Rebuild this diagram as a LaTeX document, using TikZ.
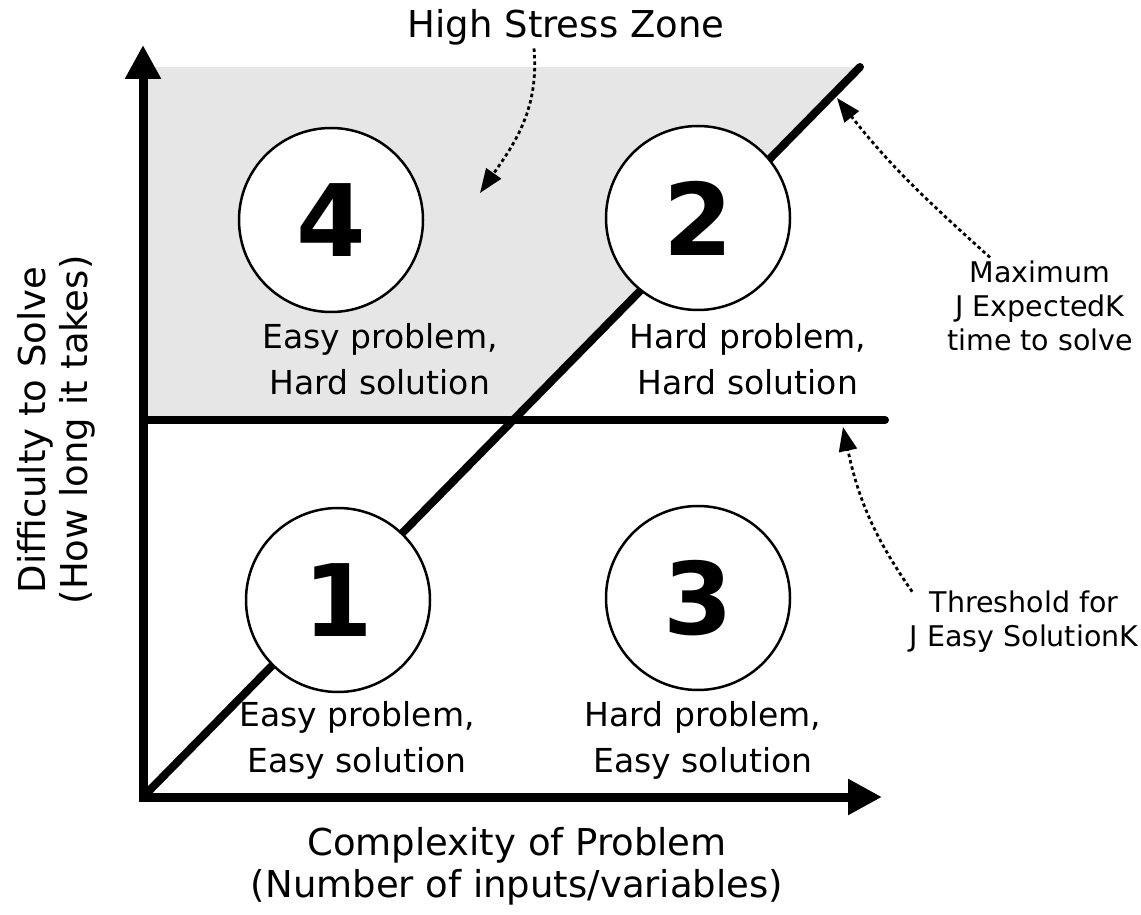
\documentclass[tikz,border=0pt]{standalone}
\usepackage{fontspec}
\setmainfont{DejaVu Sans}
\usepackage{tikz}
\usetikzlibrary{arrows.meta, positioning}
\definecolor{stressgray}{RGB}{230, 230, 230}

\begin{document}
\begin{tikzpicture}[
    x=1pt, y=1pt,
    axisline/.style={line width=9pt, -{Triangle[length=34pt, width=34pt]}},
    divider/.style={line width=8pt, line cap=round},
    quadrant/.style={circle, draw, line width=2.5pt, fill=white, minimum size=184pt, inner sep=0pt, font=\fontsize{100}{100}\selectfont\bfseries},
    quadtext/.style={align=center, font=\fontsize{33}{46}\selectfont},
    axistext/.style={align=center, font=\fontsize{37}{42}\selectfont},
    annot/.style={align=center, font=\fontsize{28.5}{34}\selectfont},
    pointer/.style={line width=2.8pt, dash pattern=on 3.5pt off 3pt, -{Triangle[length=24pt, width=18pt]}}
]
    \useasboundingbox (0, 0) rectangle (1141, 914);

    % Stress zone
    \fill[stressgray] (148, 847) -- (857, 847) -- (513, 494) -- (148, 494) -- cycle;

    % Axes
    \coordinate (origin) at (143, 117);
    \coordinate (ytop) at (143, 869);
    \coordinate (xend) at (882, 117);
    \coordinate (diagend) at (860, 847);
    \coordinate (hleft) at (143, 494);
    \coordinate (hright) at (885, 494);
    \draw[divider] (origin) -- (diagend);
    \draw[divider] (hleft) -- (hright);
    \draw[axisline] ([yshift=-4pt]origin) -- (ytop);
    \draw[axisline] ([xshift=-4pt]origin) -- (xend);

    % Quadrants
    \node[quadrant] (q4) at (331, 694) {4};
    \node[quadrant] (q2) at (698, 696) {2};
    \node[quadrant] (q1) at (338, 314) {1};
    \node[quadrant] (q3) at (698, 316) {3};

    \node[quadtext] (t4) at (380, 555) {Easy problem,\\Hard solution};
    \node[quadtext] (t2) at (748, 555) {Hard problem,\\Hard solution};
    \node[quadtext] (t1) at (357, 174) {Easy problem,\\Easy solution};
    \node[quadtext] (t3) at (703, 174) {Hard problem,\\Easy solution};

    % Axis labels
    \node[axistext, rotate=90] (ylab) at (56, 484) {Difficulty to Solve\\(How long it takes)};
    \node[axistext] (xlab) at (517, 48) {Complexity of Problem\\(Number of inputs/variables)};

    % Notes
    \node[font=\fontsize{37}{42}\selectfont] (stress) at (566, 887) {High Stress Zone};
    \node[annot] (maxnote) at (1040, 608) {Maximum\\J ExpectedK\\time to solve};
    \node[annot] (thrnote) at (1024, 292) {Threshold for\\J Easy SolutionK};

    \coordinate (stresstip) at (480, 721);
    \coordinate (maxtip) at (837, 816);
    \coordinate (thrtip) at (843, 487);

    \draw[pointer] ([xshift=-32pt]stress.south) to[out=-85, in=55] (stresstip);
    \draw[pointer] ([xshift=-50pt]maxnote.north) to[out=138, in=-52] (maxtip);
    \draw[pointer] ([xshift=6pt, yshift=-4pt]thrnote.north west) to[out=125, in=-78] (thrtip);
\end{tikzpicture}
\end{document}
